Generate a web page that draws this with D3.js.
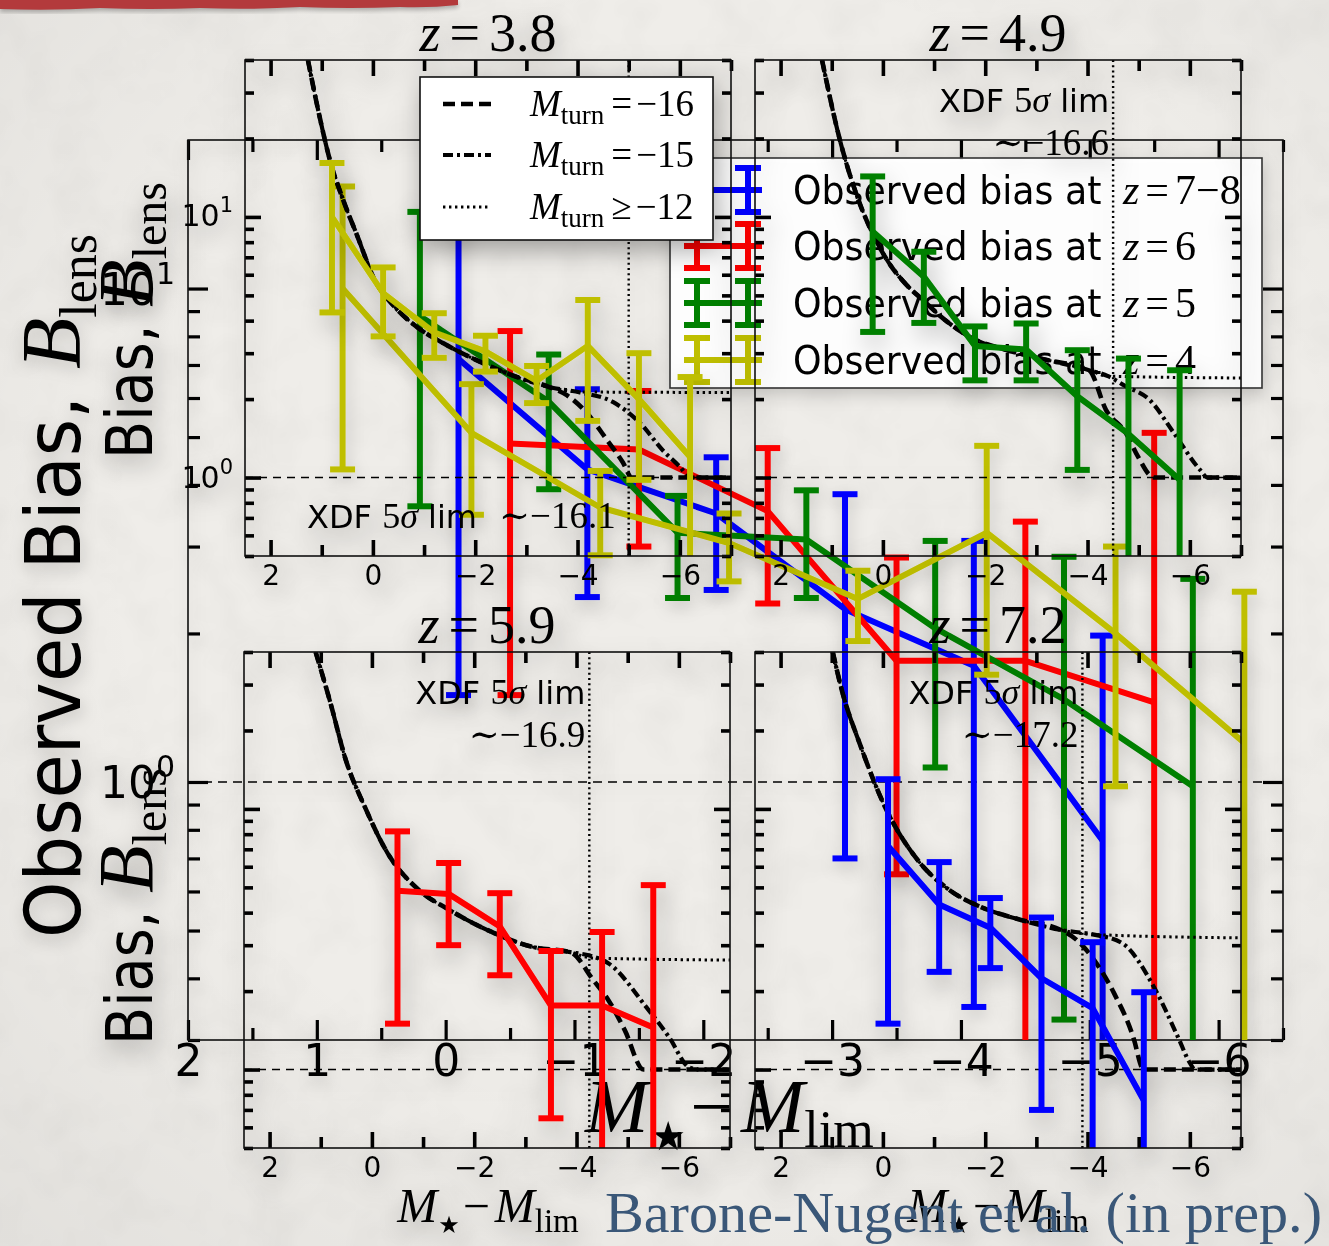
<!DOCTYPE html>
<html>
<head>
<meta charset="utf-8">
<script src="https://cdn.jsdelivr.net/npm/d3@7"></script>
<style>
  html, body { margin: 0; padding: 0; background: #efede9; }
  svg { display: block; }
</style>
</head>
<body>
<svg id="chart" width="1329" height="1246"></svg>
<script>
// ---------------------------------------------------------------
// Observed lensing bias B_lens versus M* - M_lim
// ---------------------------------------------------------------

// series order as in the legend
const seriesLabels = ["7\u22128", "6", "5", "4"];
const seriesColors = ["#0000ff", "#ff0000", "#008000", "#bfbf00"];

// z = 7-8
const blueX  = [-0.1, -1.1, -2.1, -3.1, -4.1, -5.1];
const blueY  = [7.2, 4.3, 3.5, 2.24, 1.72, 0.76];
const blueLo = [1.5, 2.37, 2.45, 0.70, 0.35, 0.25];
const blueHi = [13.0, 6.25, 4.55, 3.83, 3.08, 1.98];
// z = 6
const redX  = [-0.5, -1.5, -2.5, -3.5, -4.5, -5.5];
const redY  = [4.85, 4.72, 3.54, 1.76, 1.76, 1.45];
const redLo = [1.5, 3.0, 2.3, 0.65, 0.2, 0.2];
const redHi = [8.2, 6.2, 4.75, 2.85, 3.37, 5.1];
// z = 5
const greenX  = [0.2, -0.8, -1.8, -2.8, -3.8, -4.8, -5.8];
const greenY  = [8.8, 5.9, 3.2, 3.1, 2.05, 1.47, 0.98];
const greenLo = [3.62, 3.92, 2.36, 2.36, 1.07, 0.33, 0.2];
const greenHi = [14.3, 7.35, 3.8, 3.9, 3.08, 2.86, 2.58];
// z = 4
const yellowX  = [0.8, -0.2, -1.2, -2.2, -3.2, -4.2, -5.2, -6.2];
const yellowY  = [10, 5.1, 3.6, 3.05, 2.35, 3.2, 2.0, 1.2];
const yellowLo = [4.3, 3.48, 2.88, 2.55, 1.93, 1.65, 0.98, 0.2];
const yellowHi = [16.1, 6.4, 4.27, 3.5, 2.68, 4.8, 3.0, 2.43];

// model panels
const panelZ      = ["3.8", "4.9", "5.9", "7.2"];
const xdfLimit    = ["16.1", "16.6", "16.9", "17.2"];
const xdfLineX    = [-5.0, -4.5, -4.25, -3.9];
const turnLabels  = [["=", "\u221216"], ["=", "\u221215"], ["\u2265", "\u221212"]];

// model curves: shared bright end, then the three turnover tails
const brightTL = [[1.27,40],[1.07,25.7],[0.84,16.5],[0.58,11.6],[0.31,8.5],[-0.04,5.7],[-0.39,4.6],[-0.86,3.78],[-1.37,3.28],[-2.15,2.75],[-2.82,2.43],[-3.46,2.22]];
const turn16TL = [[-3.79,2.07],[-4.18,1.77],[-4.58,1.39],[-4.89,1.14],[-5.06,1.0],[-7,1.0]];
const turn15TL = [[-4.05,2.12],[-4.69,1.95],[-5.22,1.62],[-5.67,1.27],[-6.0,1.10],[-6.2,1.0],[-7,1.0]];
const turn12TL = [[-4.05,2.13],[-7,2.12]];

const brightTR = [[1.19,40],[0.84,19.7],[0.53,12.4],[0.21,8.7],[-0.12,6.65],[-0.43,5.57],[-0.78,4.8],[-1.23,4.0],[-1.70,3.46],[-2.43,3.08],[-3.23,2.82],[-4.03,2.58]];
const turn16TR = [[-4.36,1.82],[-4.75,1.48],[-4.99,1.2],[-5.22,1.02],[-5.3,1.0],[-7,1.0]];
const turn15TR = [[-4.4,2.45],[-4.73,2.25],[-5.22,1.98],[-5.69,1.48],[-6.2,1.07],[-6.35,1.0],[-7,1.0]];
const turn12TR = [[-4.4,2.45],[-7,2.41]];

const brightBL = [[1.10,40],[0.81,25.5],[0.51,15.4],[0.14,10.2],[-0.30,6.8],[-0.91,4.9],[-1.51,4.1],[-2.39,3.34],[-3.15,2.95],[-3.88,2.82]];
const turn16BL = [[-4.33,2.2],[-4.62,1.85],[-4.94,1.42],[-5.31,1.0],[-7,1.0]];
const turn15BL = [[-4.3,2.72],[-4.62,2.56],[-5.36,1.74],[-5.81,1.33],[-6.2,1.02],[-6.4,1.0],[-7,1.0]];
const turn12BL = [[-4.3,2.68],[-7,2.63]];

const brightBR = [[0.98,40],[0.82,29.4],[0.43,17.3],[-0.04,10.2],[-0.67,6.4],[-1.29,4.9],[-1.92,4.2],[-2.70,3.75],[-3.48,3.43]];
const turn16BR = [[-3.79,3.14],[-4.13,2.63],[-4.52,1.96],[-4.91,1.30],[-5.06,1.02],[-5.1,1.0],[-7,1.0]];
const turn15BR = [[-4.1,3.3],[-4.67,3.06],[-5.30,2.07],[-5.77,1.33],[-6.0,1.06],[-6.1,1.0],[-7,1.0]];
const turn12BR = [[-4.1,3.3],[-7,3.2]];

// axis ticks
const bigXTicks = [2, 1, 0, -1, -2, -3, -4, -5, -6];
const panelXTicks = [2, 0, -2, -4, -6];

// ---------------------------------------------------------------
const SANS = "'DejaVu Sans', sans-serif";
const SERIF = "'Liberation Serif', 'DejaVu Serif', serif";
const svg = d3.select("#chart");
const defs = svg.append("defs");

// soft drop shadows used by the overlaid figures
const sh = defs.append("filter").attr("id", "shadow").attr("x", "-10%").attr("y", "-10%").attr("width", "120%").attr("height", "120%");
sh.append("feDropShadow").attr("dx", 3).attr("dy", 10).attr("stdDeviation", 12)
  .attr("flood-color", "#000").attr("flood-opacity", 0.32);
const sh2 = defs.append("filter").attr("id", "shadow2").attr("x", "-10%").attr("y", "-10%").attr("width", "120%").attr("height", "120%");
sh2.append("feDropShadow").attr("dx", 2).attr("dy", 6).attr("stdDeviation", 8)
  .attr("flood-color", "#000").attr("flood-opacity", 0.18);
const bannerBlur = defs.append("filter").attr("id", "bannerShadow");
bannerBlur.append("feGaussianBlur").attr("stdDeviation", 2);

// paper-like background
svg.append("rect").attr("width", 1329).attr("height", 1246).attr("fill", "#efede9");
const grain = defs.append("filter").attr("id", "grain");
grain.append("feTurbulence").attr("type", "fractalNoise").attr("baseFrequency", 0.02).attr("numOctaves", 3).attr("seed", 7);
grain.append("feColorMatrix").attr("type", "matrix")
  .attr("values", "0 0 0 0 0  0 0 0 0 0  0 0 0 0 0  0 0 0 -0.9 0.55");
svg.append("rect").attr("width", 1329).attr("height", 1246).attr("filter", "url(#grain)").attr("opacity", 0.05);
const vg = defs.append("radialGradient").attr("id", "vign").attr("cx", "55%").attr("cy", "45%").attr("r", "75%");
vg.append("stop").attr("offset", "0.6").attr("stop-color", "#000").attr("stop-opacity", 0);
vg.append("stop").attr("offset", "1").attr("stop-color", "#000").attr("stop-opacity", 0.05);
svg.append("rect").attr("width", 1329).attr("height", 1246).attr("fill", "url(#vign)");

// red ribbon at the top
svg.append("path").attr("d", "M0,0 L458,0 L458,6 Q430,9 400,8 Q350,10 300,8 Q250,11 200,9 Q150,11 100,9 Q50,12 0,10 Z")
  .attr("fill", "#000").attr("opacity", 0.25).attr("transform", "translate(0,2)").attr("filter", "url(#bannerShadow)");
svg.append("path").attr("d", "M0,0 L458,0 L458,5 Q430,8 400,7 Q350,9 300,7 Q250,10 200,8 Q150,10 100,8 Q50,11 0,9 Z")
  .attr("fill", "#b33a3c");

// ---------------------------------------------------------------
// text helper: lays out a run of differently styled pieces
function label(parent, x, y, parts, opt = {}) {
  const g = parent.append("g")
    .attr("transform", `translate(${x},${y})` + (opt.rot ? ` rotate(${opt.rot})` : ""));
  let cx = 0;
  const nodes = [];
  parts.forEach(p => {
    cx += p.gap || 0;
    const t = g.append("text")
      .attr("x", cx).attr("y", p.b || 0)
      .attr("font-family", p.f || SANS)
      .attr("font-size", p.s)
      .attr("font-style", p.i ? "italic" : "normal")
      .attr("fill", opt.fill || "#000")
      .style("white-space", "pre")
      .text(p.t);
    let w = t.node().getComputedTextLength();
    if (p.len) { w = p.len; t.attr("textLength", w).attr("lengthAdjust", "spacingAndGlyphs"); }
    else if (p.sx) { w = w * p.sx; t.attr("textLength", w).attr("lengthAdjust", "spacingAndGlyphs"); }
    cx += w;
    nodes.push(t);
  });
  const shift = opt.anchor === "middle" ? -cx / 2 : opt.anchor === "end" ? -cx : 0;
  nodes.forEach(n => n.attr("x", +n.attr("x") + shift));
  return g;
}

function drawSeries(g, x, y, xs, ys, lo, hi, color, lw, cap) {
  const pts = xs.map((v, i) => ({ x: v, y: ys[i], lo: lo[i], hi: hi[i] }));
  const s = g.append("g");
  s.append("path").datum(pts)
    .attr("d", d3.line().x(d => x(d.x)).y(d => y(d.y)))
    .attr("fill", "none").attr("stroke", color).attr("stroke-width", lw)
    .attr("stroke-linejoin", "round");
  const eb = s.selectAll("g.eb").data(pts).enter().append("g");
  eb.append("line")
    .attr("x1", d => x(d.x)).attr("x2", d => x(d.x))
    .attr("y1", d => y(d.lo)).attr("y2", d => y(d.hi))
    .attr("stroke", color).attr("stroke-width", lw);
  ["lo", "hi"].forEach(k => {
    eb.append("line")
      .attr("x1", d => x(d.x) - cap).attr("x2", d => x(d.x) + cap)
      .attr("y1", d => y(d[k])).attr("y2", d => y(d[k]))
      .attr("stroke", color).attr("stroke-width", lw);
  });
}

function styleAxis(sel, w) {
  sel.select(".domain").remove();
  sel.selectAll(".tick line").attr("stroke", "#000").attr("stroke-width", w);
}

const allSeries = [
  [blueX, blueY, blueLo, blueHi],
  [redX, redY, redLo, redHi],
  [greenX, greenY, greenLo, greenHi],
  [yellowX, yellowY, yellowLo, yellowHi]
];

// ---------------------------------------------------------------
// Layer 1: combined figure with every redshift bin
// ---------------------------------------------------------------
const bigLayer = svg.append("g").attr("filter", "url(#shadow2)");
const bx = d3.scaleLinear().domain([2, -6.5]).range([188, 1283]);
const by = d3.scaleLog().domain([0.3, 20]).range([1040, 140]);

defs.append("clipPath").attr("id", "clipBig").append("rect")
  .attr("x", 188).attr("y", 140).attr("width", 1095).attr("height", 900);

bigLayer.append("line").attr("x1", 188).attr("x2", 1283).attr("y1", by(1)).attr("y2", by(1))
  .attr("stroke", "#000").attr("stroke-width", 1.6).attr("stroke-dasharray", "9,6");

const bxMinor = d3.range(-6.5, 2.01, 0.5).filter(v => !Number.isInteger(v));
bigLayer.append("g").attr("transform", "translate(0,1040)")
  .call(d3.axisBottom(bx).tickValues(bigXTicks).tickSize(-20).tickPadding(5).tickFormat(d3.format("d")))
  .call(s => styleAxis(s, 3.2))
  .call(s => s.selectAll("text").attr("font-family", SANS).attr("font-size", 44).attr("fill", "#000"));
bigLayer.append("g").attr("transform", "translate(0,1040)")
  .call(d3.axisBottom(bx).tickValues(bxMinor).tickSize(-12).tickFormat(""))
  .call(s => styleAxis(s, 3.2));
bigLayer.append("g").attr("transform", "translate(0,140)")
  .call(d3.axisTop(bx).tickValues(bigXTicks).tickSize(-20).tickFormat(""))
  .call(s => styleAxis(s, 3.2));
bigLayer.append("g").attr("transform", "translate(0,140)")
  .call(d3.axisTop(bx).tickValues(bxMinor).tickSize(-12).tickFormat(""))
  .call(s => styleAxis(s, 3.2));
const byMinor = [0.3, 0.4, 0.5, 0.6, 0.7, 0.8, 0.9, 2, 3, 4, 5, 6, 7, 8, 9];
[[188, d3.axisLeft], [1283, d3.axisRight]].forEach(([px, ax]) => {
  bigLayer.append("g").attr("transform", `translate(${px},0)`)
    .call(ax(by).tickValues([1, 10]).tickSize(-20).tickFormat(""))
    .call(s => styleAxis(s, 3.2));
  bigLayer.append("g").attr("transform", `translate(${px},0)`)
    .call(ax(by).tickValues(byMinor).tickSize(-12).tickFormat(""))
    .call(s => styleAxis(s, 3.2));
});
bigLayer.append("rect").attr("x", 188).attr("y", 140).attr("width", 1095).attr("height", 900)
  .attr("fill", "none").attr("stroke", "#111").attr("stroke-width", 1.6);

// y tick labels of the combined figure
label(bigLayer, 175, by(10) + 16, [{ t: "10", s: 44 }, { t: "1", s: 30, b: -21 }], { anchor: "end" });
label(bigLayer, 175, by(1) + 16, [{ t: "10", s: 44 }, { t: "0", s: 30, b: -21 }], { anchor: "end" });

const bigData = bigLayer.append("g").attr("clip-path", "url(#clipBig)");
allSeries.forEach((s, i) => drawSeries(bigData, bx, by, s[0], s[1], s[2], s[3], seriesColors[i], 6, 12.5));

// legend of the combined figure
const lg2 = bigLayer.append("g");
lg2.append("rect").attr("x", 670).attr("y", 158).attr("width", 592).attr("height", 230)
  .attr("fill", "#fff").attr("fill-opacity", 0.93).attr("stroke", "#333").attr("stroke-width", 1.6);
const lg2Rows = [190, 246, 303, 360];
seriesLabels.forEach((lab, i) => {
  const cy = lg2Rows[i], c = seriesColors[i];
  lg2.append("line").attr("x1", 684).attr("x2", 762).attr("y1", cy).attr("y2", cy).attr("stroke", c).attr("stroke-width", 6);
  [697, 748].forEach(ex => {
    lg2.append("line").attr("x1", ex).attr("x2", ex).attr("y1", cy - 22).attr("y2", cy + 22).attr("stroke", c).attr("stroke-width", 6);
    lg2.append("line").attr("x1", ex - 13).attr("x2", ex + 13).attr("y1", cy - 22).attr("y2", cy - 22).attr("stroke", c).attr("stroke-width", 6);
    lg2.append("line").attr("x1", ex - 13).attr("x2", ex + 13).attr("y1", cy + 22).attr("y2", cy + 22).attr("stroke", c).attr("stroke-width", 6);
  });
  label(lg2, 793, cy + 14, [
    { t: "Observed bias at ", s: 39, len: 320 },
    { t: "z", f: SERIF, i: true, s: 42, gap: 10 },
    { t: "=", f: SERIF, s: 42, gap: 6 },
    { t: lab, f: SERIF, s: 42, gap: 6 }
  ]);
});

// axis titles of the combined figure
label(bigLayer, 80, 938, [
  { t: "Observed Bias, ", s: 76, len: 565 },
  { t: "B", f: SERIF, i: true, s: 84, gap: 4 },
  { t: "lens", f: SERIF, s: 52, b: 16 }
], { rot: -90 });
label(bigLayer, 585, 1132, [
  { t: "M", f: SERIF, i: true, s: 76 },
  { t: "\u2605", f: SANS, s: 40, b: 18, gap: 2 },
  { t: "\u2212", f: SERIF, s: 76, gap: 4 },
  { t: "M", f: SERIF, i: true, s: 76, gap: 8 },
  { t: "lim", f: SERIF, s: 52, b: 15 }
]);

// ---------------------------------------------------------------
// Layer 2: four redshift panels with the turnover models
// ---------------------------------------------------------------
const panelLayer = svg.append("g").attr("filter", "url(#shadow)");
const PW = 486, PH = 496;
const panelBoxes = [{ x0: 245, y0: 60 }, { x0: 755, y0: 60 }, { x0: 244, y0: 652 }, { x0: 755, y0: 652 }];
const panelSeries = [3, 2, 1, 0];
const panelCurves = [
  [brightTL, turn16TL, turn15TL, turn12TL],
  [brightTR, turn16TR, turn15TR, turn12TR],
  [brightBL, turn16BL, turn15BL, turn12BL],
  [brightBR, turn16BR, turn15BR, turn12BR]
];
const curveStyles = [
  { w: 4.6, dash: "12,6" },
  { w: 4.2, dash: "10,4,3,4" },
  { w: 3.0, dash: "2.4,3.6" }
];
const pxMinor = [-7, -5, -3, -1, 1];
const pyMinor = [0.5, 0.6, 0.7, 0.8, 0.9, 2, 3, 4, 5, 6, 7, 8, 9, 20, 30, 40];

panelBoxes.forEach((b, pi) => {
  const g = panelLayer.append("g");
  const x = d3.scaleLinear().domain([2.5, -7]).range([b.x0, b.x0 + PW]);
  const y = d3.scaleLog().domain([0.5, 40]).range([b.y0 + PH, b.y0]);
  const cid = "clipP" + pi;
  defs.append("clipPath").attr("id", cid).append("rect")
    .attr("x", b.x0).attr("y", b.y0).attr("width", PW).attr("height", PH);

  // ticks
  g.append("g").attr("transform", `translate(0,${b.y0 + PH})`)
    .call(d3.axisBottom(x).tickValues(panelXTicks).tickSize(-16).tickPadding(9).tickFormat(d3.format("d")))
    .call(s => styleAxis(s, 3.6))
    .call(s => s.selectAll("text").attr("font-family", SANS).attr("font-size", 28).attr("fill", "#000"));
  g.append("g").attr("transform", `translate(0,${b.y0 + PH})`)
    .call(d3.axisBottom(x).tickValues(pxMinor).tickSize(-11).tickFormat(""))
    .call(s => styleAxis(s, 3.6));
  g.append("g").attr("transform", `translate(0,${b.y0})`)
    .call(d3.axisTop(x).tickValues(panelXTicks).tickSize(-16).tickFormat(""))
    .call(s => styleAxis(s, 3.6));
  g.append("g").attr("transform", `translate(0,${b.y0})`)
    .call(d3.axisTop(x).tickValues(pxMinor).tickSize(-11).tickFormat(""))
    .call(s => styleAxis(s, 3.6));
  [[b.x0, d3.axisLeft], [b.x0 + PW, d3.axisRight]].forEach(([px, ax]) => {
    g.append("g").attr("transform", `translate(${px},0)`)
      .call(ax(y).tickValues([1, 10]).tickSize(-16).tickFormat(""))
      .call(s => styleAxis(s, 3.6));
    g.append("g").attr("transform", `translate(${px},0)`)
      .call(ax(y).tickValues(pyMinor).tickSize(-9).tickFormat(""))
      .call(s => styleAxis(s, 3.6));
  });

  // unit bias and the XDF depth
  g.append("line").attr("x1", b.x0).attr("x2", b.x0 + PW).attr("y1", y(1)).attr("y2", y(1))
    .attr("stroke", "#000").attr("stroke-width", 1.5).attr("stroke-dasharray", "8,6");
  g.append("line").attr("x1", x(xdfLineX[pi])).attr("x2", x(xdfLineX[pi])).attr("y1", b.y0).attr("y2", b.y0 + PH)
    .attr("stroke", "#000").attr("stroke-width", 2.4).attr("stroke-dasharray", "2,3.2");

  // model curves
  const cg = g.append("g").attr("clip-path", `url(#${cid})`);
  const [bright, ...tails] = panelCurves[pi];
  const ln = d3.line().x(d => x(d[0])).y(d => y(d[1])).curve(d3.curveMonotoneX);
  tails.forEach((tail, k) => {
    cg.append("path").datum(bright.concat(tail)).attr("d", ln)
      .attr("fill", "none").attr("stroke", "#000")
      .attr("stroke-width", curveStyles[k].w).attr("stroke-dasharray", curveStyles[k].dash);
  });

  // observed bin for this panel
  const si = panelSeries[pi], s = allSeries[si];
  drawSeries(cg, x, y, s[0], s[1], s[2], s[3], seriesColors[si], 6, 12.5);

  // frame
  g.append("rect").attr("x", b.x0).attr("y", b.y0).attr("width", PW).attr("height", PH)
    .attr("fill", "none").attr("stroke", "#111").attr("stroke-width", 1.6);

  // title
  const cx = b.x0 + PW / 2;
  label(g, cx, b.y0 - 9, [
    { t: "z", f: SERIF, i: true, s: 54 },
    { t: "=", f: SERIF, s: 54, gap: 9 },
    { t: panelZ[pi], f: SERIF, s: 54, gap: 9 }
  ], { anchor: "middle" });

  // XDF annotation
  const xdfParts = [
    { t: "XDF ", s: 32 },
    { t: "5", f: SERIF, s: 36 },
    { t: "\u03c3", f: SERIF, i: true, s: 36 },
    { t: " lim", s: 32 }
  ];
  const ex = x(xdfLineX[pi]) - 4;
  if (pi === 0) {
    label(g, 307, b.y0 + 468, xdfParts.concat([
      { t: "\u223c\u2212" + xdfLimit[pi], f: SERIF, s: 37, gap: 22 }
    ]));
  } else {
    label(g, ex, b.y0 + 52, xdfParts, { anchor: "end" });
    label(g, ex, b.y0 + 95, [{ t: "\u223c\u2212" + xdfLimit[pi], f: SERIF, s: 37 }], { anchor: "end" });
  }
});

// y tick labels on the upper-left panel
label(panelLayer, 233, 226, [{ t: "10", s: 30 }, { t: "1", s: 21, b: -14 }], { anchor: "end" });
label(panelLayer, 233, 488, [{ t: "10", s: 30 }, { t: "0", s: 21, b: -14 }], { anchor: "end" });

// axis titles of the panel figure
[488, 998].forEach(cx => {
  label(panelLayer, cx, 1222, [
    { t: "M", f: SERIF, i: true, s: 48 },
    { t: "\u2605", f: SANS, s: 24, b: 11, gap: 1 },
    { t: "\u2212", f: SERIF, s: 48, gap: 3 },
    { t: "M", f: SERIF, i: true, s: 48, gap: 5 },
    { t: "lim", f: SERIF, s: 33, b: 10 }
  ], { anchor: "middle" });
});
[459, 1045].forEach(y0 => {
  label(panelLayer, 152, y0, [
    { t: "Bias, ", s: 64, len: 152 },
    { t: "B", f: SERIF, i: true, s: 78 },
    { t: "lens", f: SERIF, s: 48, b: 14 }
  ], { rot: -90 });
});

// legend of the turnover models
const lg1 = panelLayer.append("g");
lg1.append("rect").attr("x", 420).attr("y", 77).attr("width", 293).attr("height", 163)
  .attr("fill", "#fff").attr("stroke", "#111").attr("stroke-width", 1.6);
const lg1Rows = [104, 155, 207];
turnLabels.forEach((tl, k) => {
  const cy = lg1Rows[k];
  lg1.append("line").attr("x1", 443).attr("x2", 491).attr("y1", cy).attr("y2", cy)
    .attr("stroke", "#000").attr("stroke-width", curveStyles[k].w).attr("stroke-dasharray", curveStyles[k].dash);
  label(lg1, 530, cy + 12, [
    { t: "M", f: SERIF, i: true, s: 37 },
    { t: "turn", f: SERIF, s: 27, b: 8 },
    { t: tl[0], f: SERIF, s: 37, gap: 7 },
    { t: tl[1], f: SERIF, s: 37, gap: 4 }
  ]);
});

// credit line
label(svg, 605, 1232, [{ t: "Barone-Nugent et al. (in prep.)", f: SERIF, s: 56, len: 717 }], { fill: "#3a5778" });
</script>
</body>
</html>
